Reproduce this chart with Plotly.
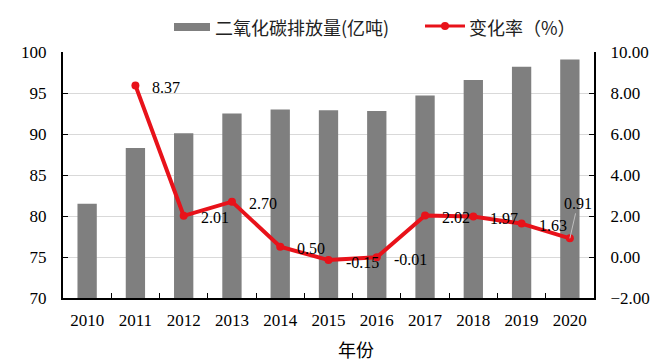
import plotly.graph_objects as go

years = ["2010", "2011", "2012", "2013", "2014", "2015", "2016", "2017", "2018", "2019", "2020"]
emissions = [81.5, 88.3, 90.1, 92.5, 93.0, 92.9, 92.8, 94.7, 96.6, 98.2, 99.1]
rate_years = ["2011", "2012", "2013", "2014", "2015", "2016", "2017", "2018", "2019", "2020"]
rates = [8.37, 2.01, 2.70, 0.50, -0.15, -0.01, 2.02, 1.97, 1.63, 0.91]
rate_labels = ["8.37", "2.01", "2.70", "0.50", "-0.15", "-0.01", "2.02", "1.97", "1.63", "0.91"]
left_ticks = [70, 75, 80, 85, 90, 95, 100]
right_ticks = [-2, 0, 2, 4, 6, 8, 10]
bar_name = "二氧化碳排放量(亿吨)"
line_name = "变化率（%）"
x_title = "年份"

SERIF = "Liberation Serif, Times New Roman, serif"
CJK = "Noto Sans CJK SC"
RED = "#e8121a"
GRAY = "#7f7f7f"

# The page body has an 8px default margin, so the figure is drawn 8px in.
OFF = 8
W, H = 666 - OFF, 364 - OFF
# plot area in window pixels: left 63, right 594, top 52, bottom 298
L, T = 63 - OFF, 52 - OFF
R = W - (594 - OFF)
B = H - (298 - OFF)
PW, PH = W - L - R, H - T - B


def px(x):
    """window x pixel -> paper coordinate"""
    return (x - OFF - L) / PW


def py(y):
    """window y pixel -> paper coordinate"""
    return (H - B - (y - OFF)) / PH


fig = go.Figure()
fig.add_trace(go.Bar(
    x=years, y=emissions, name=bar_name,
    marker=dict(color=GRAY, line=dict(width=0)), yaxis="y",
))
fig.add_trace(go.Scatter(
    x=rate_years, y=rates, name=line_name, yaxis="y2",
    mode="lines+markers", line=dict(color=RED, width=4),
    marker=dict(color=RED, size=8),
))

annotations = []
for i, (yr, r, lab) in enumerate(zip(rate_years, rates, rate_labels)):
    xi = years.index(yr)
    if i == len(rates) - 1:
        annotations.append(dict(
            x=xi, y=r, xref="x", yref="y2", text=lab, showarrow=True,
            arrowhead=0, arrowwidth=1, arrowcolor="#bfbfbf", ax=8, ay=-35,
            font=dict(family=SERIF, size=16, color="black"),
        ))
    else:
        annotations.append(dict(
            x=xi, y=r, xref="x", yref="y2", text=lab, showarrow=False,
            xanchor="left", yanchor="middle", xshift=15, yshift=-2,
            font=dict(family=SERIF, size=16, color="black"),
        ))

# x-axis title
annotations.append(dict(
    x=px(356), y=py(349), xref="paper", yref="paper", text=x_title, showarrow=False,
    xanchor="center", yanchor="middle", font=dict(family=CJK, size=18, color="black"),
))
# legend texts
annotations.append(dict(
    x=px(213), y=py(27), xref="paper", yref="paper", text=bar_name, showarrow=False,
    xanchor="left", yanchor="middle", font=dict(family=CJK, size=18, color="#222"),
))
annotations.append(dict(
    x=px(467), y=py(27), xref="paper", yref="paper", text=line_name, showarrow=False,
    xanchor="left", yanchor="middle", font=dict(family=CJK, size=18, color="#222"),
))

shapes = [
    dict(type="rect", xref="paper", yref="paper", x0=px(174), x1=px(210),
         y0=py(31), y1=py(23), fillcolor=GRAY, line=dict(width=0)),
    dict(type="line", xref="paper", yref="paper", x0=px(425), x1=px(465),
         y0=py(26), y1=py(26), line=dict(color=RED, width=3)),
    dict(type="circle", xref="paper", yref="paper", x0=px(441), x1=px(449),
         y0=py(30), y1=py(22), fillcolor=RED, line=dict(width=0)),
]

fig.update_layout(
    width=W, height=H,
    margin=dict(l=L, r=R, t=T, b=B),
    paper_bgcolor="white", plot_bgcolor="white",
    bargap=0.6,
    showlegend=False,
    xaxis=dict(
        type="category", categoryorder="array", categoryarray=years,
        range=[-0.5, len(years) - 0.5], automargin=False,
        showline=True, linecolor="black", linewidth=2,
        ticks="inside", tickson="boundaries", ticklen=5, tickcolor="black",
        tickfont=dict(family=SERIF, size=17, color="black"), showgrid=False,
        tickangle=0, ticklabelstandoff=6,
    ),
    yaxis=dict(
        range=[70, 100], tickvals=left_ticks, automargin=False,
        showline=True, linecolor="black", linewidth=2,
        ticks="inside", ticklen=5, tickcolor="black", showgrid=True, gridcolor="#d9d9d9",
        gridwidth=1, tickfont=dict(family=SERIF, size=17, color="black"), zeroline=False,
        ticklabelstandoff=11,
    ),
    yaxis2=dict(
        range=[-2, 10], tickvals=right_ticks, tickformat=".2f", overlaying="y", side="right",
        automargin=False,
        showline=True, linecolor="black", linewidth=2, ticks="inside", ticklen=5,
        tickcolor="black", showgrid=False, zeroline=False,
        tickfont=dict(family=SERIF, size=17, color="black"), ticklabelstandoff=11,
    ),
    annotations=annotations,
    shapes=shapes,
)

fig.write_html("out.html")
